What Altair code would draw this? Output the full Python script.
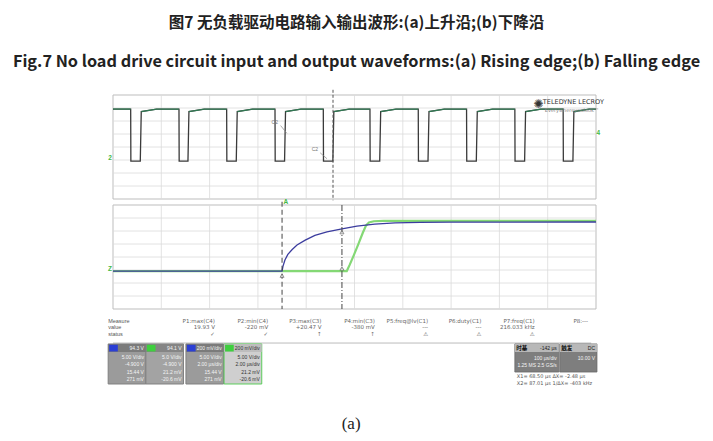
import altair as alt
import pandas as pd

# ------------------------------------------------------------------ text
TITLE_ZH = "图7 无负载驱动电路输入输出波形:(a)上升沿;(b)下降沿"
TITLE_EN = "Fig.7 No load drive circuit input and output waveforms:(a) Rising edge;(b) Falling edge"
CAPTION = "(a)"

# ------------------------------------------------------------------ top trace (drive input), time in divisions, level in divisions from centre
top_fall = [0.366, 1.366, 2.353, 3.354, 4.354, 5.32, 6.32, 7.32, 8.32, 9.32]
top_rise = [0.573, 1.56, 2.56, 3.56, 4.56, 5.53, 6.53, 7.53, 8.53, 9.53]
top_high = 2.92
top_after_rise = 2.72
top_low = -1.08
top_settle = 0.33
trigger_t = 4.555

# ------------------------------------------------------------------ zoomed traces (time in divisions, volts)
blue_t = [0.0, 3.50, 3.52, 3.56, 3.62, 3.71, 3.81, 3.98, 4.18, 4.43, 4.74, 5.05, 5.42, 5.84, 6.36, 6.98, 10.0]
blue_v = [0.0, 0.0, 2.0, 4.5, 6.8, 8.8, 10.6, 12.6, 14.5, 16.0, 17.2, 18.3, 19.1, 19.6, 19.85, 19.95, 20.0]
green_t = [0.0, 4.84, 4.90, 4.98, 5.08, 5.17, 5.24, 5.30, 5.40, 5.60, 10.0]
green_v = [0.0, 0.0, 2.5, 6.2, 11.0, 15.5, 18.6, 19.8, 20.3, 20.45, 20.47]
cursor_t = [3.50, 4.74]
volts_per_div = 5.3
zero_level_div = -1.08

# ------------------------------------------------------------------ measurement table
row_labels = ["Measure", "value", "status"]
meas_names = ["P1:max(C4)", "P2:min(C4)", "P3:max(C3)", "P4:min(C3)",
              "P5:freq@lv(C1)", "P6:duty(C1)", "P7:freq(C1)", "P8:---"]
meas_values = ["19.93 V", "-220 mV", "+20.47 V", "-380 mV", "---", "---", "216.033 kHz", ""]
meas_status = ["✓", "✓", "↑", "↑", "⚠", "⚠", "⚠", ""]

# ------------------------------------------------------------------ channel descriptor boxes
ch_names = ["C4", "C3", "Z1", "Z2"]
ch_colors = ["#2b3fd4", "#3fcf3f", "#2b3fd4", "#3fcf3f"]
ch_header = ["94.3 V", "94.1 V", "200 mV/div", "200 mV/div"]
ch_line1 = ["5.00 V/div", "5.0 V/div", "5.00 V/div", "5.00 V/div"]
ch_line2 = ["-4.900 V", "-4.900 V", "2.00 µs/div", "2.00 µs/div"]
ch_line3 = ["15.44 V", "21.2 mV", "15.44 V", "21.2 mV"]
ch_line4 = ["271 mV", "-20.6 mV", "271 mV", "-20.6 mV"]

tb_header_l = ["时基", "触发"]
tb_header_r = ["-142 µs", "DC"]
tb_line1 = ["100 µs/div", "10.00 V"]
tb_line2 = ["1.25 MS  2.5 GS/s", ""]
cursor_lines = ["X1=  68.50 µs    ΔX=  -2.48 µs", "X2=  87.01 µs  1/ΔX= -403 kHz"]

# ------------------------------------------------------------------ layout (division units of the scope screen)
PX_X, PX_Y = 48.3, 13.0
W, H = 697, 346
LEFT_PX = 105
X_DOMAIN = [-LEFT_PX / PX_X, (W - LEFT_PX) / PX_X]
Y_DOMAIN = [0, H / PX_Y]
TOP0 = 0.0
BOT0 = 110 / PX_Y

XS = alt.Scale(domain=X_DOMAIN, nice=False, zero=False)
YS = alt.Scale(domain=Y_DOMAIN, nice=False, zero=False, reverse=True)


def X(f="x"):
    return alt.X(f"{f}:Q", scale=XS, axis=None)


def Y(f="y"):
    return alt.Y(f"{f}:Q", scale=YS, axis=None)


def y_bot(v):
    return BOT0 + 4 - (zero_level_div + v / volts_per_div)


layers = []

# panels
panels = pd.DataFrame({"x": [0, 0], "x2": [10, 10], "y": [TOP0, BOT0], "y2": [TOP0 + 8, BOT0 + 8]})
layers.append(alt.Chart(panels).mark_rect(fill="white", stroke="#bdbdbd", strokeWidth=1)
              .encode(x=X(), x2="x2:Q", y=Y(), y2="y2:Q"))

gv = pd.DataFrame([{"x": k, "y": p, "y2": p + 8} for p in (TOP0, BOT0) for k in range(1, 10)])
gh = pd.DataFrame([{"y": p + k, "x": 0, "x2": 10} for p in (TOP0, BOT0) for k in range(1, 8)])
layers.append(alt.Chart(gv).mark_rule(color="#dadada", strokeWidth=0.8)
              .encode(x=X(), y=Y(), y2="y2:Q"))
layers.append(alt.Chart(gh).mark_rule(color="#dadada", strokeWidth=0.8)
              .encode(y=Y(), x=X(), x2="x2:Q"))

# top trace
pts = [(0.0, top_high)]
for f, r in zip(top_fall, top_rise):
    pts += [(f, top_high), (f + 0.004, top_low), (r - 0.008, top_low),
            (r + 0.012, top_after_rise), (r + top_settle, top_high)]
pts.append((10.0, top_high))
top_df = pd.DataFrame([{"i": i, "x": t, "y": TOP0 + 4 - v} for i, (t, v) in enumerate(pts)])
layers.append(alt.Chart(top_df).mark_line(color="#3a3a3a", strokeWidth=1.3)
              .encode(x=X(), y=Y(), order="i:Q"))

hi = [{"s": 0, "i": 0, "x": 0.0, "y": TOP0 + 4 - top_high},
      {"s": 0, "i": 1, "x": top_fall[0], "y": TOP0 + 4 - top_high}]
for k, r in enumerate(top_rise):
    nxt = top_fall[k + 1] if k + 1 < len(top_fall) else 10.0
    hi += [{"s": k + 1, "i": 0, "x": r + 0.012, "y": TOP0 + 4 - top_after_rise},
           {"s": k + 1, "i": 1, "x": r + top_settle, "y": TOP0 + 4 - top_high},
           {"s": k + 1, "i": 2, "x": nxt, "y": TOP0 + 4 - top_high}]
layers.append(alt.Chart(pd.DataFrame(hi)).mark_line(color="#2f8055", strokeWidth=1.3, opacity=0.9)
              .encode(x=X(), y=Y(), detail="s:N", order="i:Q"))

# trigger line
trig = pd.DataFrame({"x": [trigger_t], "y": [TOP0 - 0.4], "y2": [TOP0 + 8.1]})
layers.append(alt.Chart(trig).mark_rule(color="#555", strokeWidth=1, strokeDash=[3, 2])
              .encode(x=X(), y=Y(), y2="y2:Q"))

# tags on top trace
tags = pd.DataFrame({"x": [3.35, 4.18], "y": [2.08, 4.15], "t": ["C2", "C2"]})
lead = pd.DataFrame({"x": [3.47, 4.29], "y": [2.35, 4.45], "x2": [3.60, 4.43], "y2": [2.95, 4.9]})
layers.append(alt.Chart(lead).mark_rule(color="#888", strokeWidth=0.7)
              .encode(x=X(), y=Y(), x2="x2:Q", y2="y2:Q"))
layers.append(alt.Chart(tags).mark_text(fontSize=5, color="#777", font="Liberation Sans")
              .encode(x=X(), y=Y(), text="t:N"))

# logo
logo = pd.DataFrame({"x": [8.70, 8.90, 8.94], "y": [0.72, 0.55, 1.15],
                     "t": ["✺", "TELEDYNE LECROY", "Everywhereyoulook™"],
                     "s": [12, 6.5, 5], "c": ["#333", "#333", "#888"]})
layers.append(alt.Chart(logo).mark_text(align="left", baseline="middle", font="DejaVu Sans")
              .encode(x=X(), y=Y(), text="t:N", size=alt.Size("s:Q", scale=None),
                      color=alt.Color("c:N", scale=None)))

# channel markers
mk = pd.DataFrame({"x": [10.05, -0.06, -0.06, 3.58], "y": [2.92, 4.87, 13.4, 8.23],
                   "t": ["4", "2", "Z", "A"]})
layers.append(alt.Chart(mk).mark_text(fontSize=6.5, color="#44b844", font="Liberation Sans", fontWeight="bold")
              .encode(x=X(), y=Y(), text="t:N"))

# zoom traces
gdf = pd.DataFrame({"x": green_t, "y": [y_bot(v) for v in green_v]})
bdf = pd.DataFrame({"x": blue_t, "y": [y_bot(v) for v in blue_v]})
layers.append(alt.Chart(gdf).mark_line(color="#84d875", strokeWidth=2.2).encode(x=X(), y=Y()))
layers.append(alt.Chart(bdf).mark_line(color="#3b3c9e", strokeWidth=1.3).encode(x=X(), y=Y()))

# cursors
cur = pd.DataFrame({"x": cursor_t, "y": [BOT0 - 0.25, BOT0], "y2": [BOT0 + 8, BOT0 + 8], "k": ["c1", "c2"]})
layers.append(alt.Chart(cur[cur.k == "c1"]).mark_rule(color="#444", strokeWidth=1, strokeDash=[5, 3])
              .encode(x=X(), y=Y(), y2="y2:Q"))
layers.append(alt.Chart(cur[cur.k == "c2"]).mark_rule(color="#444", strokeWidth=1, strokeDash=[6, 2, 1, 2])
              .encode(x=X(), y=Y(), y2="y2:Q"))
cm = pd.DataFrame({"x": [cursor_t[0], cursor_t[1], cursor_t[1]],
                   "y": [y_bot(0) + 0.35, y_bot(17.2) + 0.25, y_bot(0) - 0.2]})
layers.append(alt.Chart(cm).mark_point(shape="triangle-up", size=16, filled=True, fill="white",
                                       stroke="#444", strokeWidth=0.8)
              .encode(x=X(), y=Y()))

# measurement table
COL0, COL_STEP = 2.11, 1.1035
ROW_Y = [17.38, 17.88, 18.38]
tab = []
for i in range(len(meas_names)):
    for r, arr in enumerate([meas_names, meas_values, meas_status]):
        tab.append({"x": COL0 + i * COL_STEP, "y": ROW_Y[r], "t": arr[i]})
tab_df = pd.DataFrame(tab)
layers.append(alt.Chart(tab_df).mark_text(align="right", baseline="middle", fontSize=5.5,
                                          color="#666", font="DejaVu Sans")
              .encode(x=X(), y=Y(), text="t:N"))
rl = pd.DataFrame({"x": [-0.10] * 3, "y": ROW_Y, "t": row_labels})
layers.append(alt.Chart(rl).mark_text(align="left", baseline="middle", fontSize=5.5,
                                      color="#555", font="Liberation Sans")
              .encode(x=X(), y=Y(), text="t:N"))
sep = pd.DataFrame({"x": [0.0], "x2": [9.9], "y": [19.08]})
layers.append(alt.Chart(sep).mark_rule(color="#aaa", strokeWidth=0.8)
              .encode(x=X(), x2="x2:Q", y=Y()))

# channel boxes
BX = [-0.10, 0.68, 1.51, 2.30]
BW = 0.78
BY0, BY1, HDR = 19.15, 22.23, 0.62
boxes = pd.DataFrame({"x": BX, "x2": [b + BW for b in BX], "y": [BY0] * 4, "y2": [BY1] * 4,
                      "f": ["#9b9b9b", "#a3a3a3", "#9b9b9b", "#cfcfcf"],
                      "s": ["#808080", "#808080", "#808080", "#5ccc5c"]})
layers.append(alt.Chart(boxes).mark_rect(strokeWidth=1)
              .encode(x=X(), x2="x2:Q", y=Y(), y2="y2:Q",
                      fill=alt.Fill("f:N", scale=None), stroke=alt.Stroke("s:N", scale=None)))
hdr = pd.DataFrame({"x": BX, "x2": [b + BW for b in BX], "y": [BY0] * 4, "y2": [BY0 + HDR] * 4,
                    "f": ["#7b7b7b", "#858585", "#7b7b7b", "#bdbdbd"]})
layers.append(alt.Chart(hdr).mark_rect()
              .encode(x=X(), x2="x2:Q", y=Y(), y2="y2:Q", fill=alt.Fill("f:N", scale=None)))
sq = pd.DataFrame({"x": [b + 0.02 for b in BX], "x2": [b + 0.2 for b in BX],
                   "y": [BY0 + 0.06] * 4, "y2": [BY0 + HDR - 0.04] * 4, "f": ch_colors})
layers.append(alt.Chart(sq).mark_rect()
              .encode(x=X(), x2="x2:Q", y=Y(), y2="y2:Q", fill=alt.Fill("f:N", scale=None)))
bt = []
for i in range(4):
    dark = i == 3
    for j, arr in enumerate([ch_header, ch_line1, ch_line2, ch_line3, ch_line4]):
        bt.append({"x": BX[i] + BW - 0.04, "y": BY0 + 0.32 + j * 0.56 + (0.12 if j else 0),
                   "t": arr[i], "c": "#333" if dark else "#f4f4f4"})
layers.append(alt.Chart(pd.DataFrame(bt)).mark_text(align="right", baseline="middle", fontSize=5,
                                                    font="Liberation Sans")
              .encode(x=X(), y=Y(), text="t:N", color=alt.Color("c:N", scale=None)))

# timebase / trigger boxes
TX = [8.32, 9.25]
TW = [0.91, 0.77]
TY0, TY1 = 19.15, 21.31
tbox = pd.DataFrame({"x": TX, "x2": [a + b for a, b in zip(TX, TW)], "y": [TY0] * 2, "y2": [TY1] * 2})
layers.append(alt.Chart(tbox).mark_rect(fill="#7e7e7e", stroke="#6a6a6a", strokeWidth=0.8)
              .encode(x=X(), x2="x2:Q", y=Y(), y2="y2:Q"))
thdr = pd.DataFrame({"x": TX, "x2": [a + b for a, b in zip(TX, TW)], "y": [TY0] * 2, "y2": [TY0 + 0.62] * 2})
layers.append(alt.Chart(thdr).mark_rect(fill="#b8b8b8")
              .encode(x=X(), x2="x2:Q", y=Y(), y2="y2:Q"))
tt = []
for i in range(2):
    tt.append({"x": TX[i] + 0.03, "y": TY0 + 0.31, "t": tb_header_l[i], "a": "l", "c": "#111"})
    tt.append({"x": TX[i] + TW[i] - 0.04, "y": TY0 + 0.31, "t": tb_header_r[i], "a": "r", "c": "#222"})
    tt.append({"x": TX[i] + TW[i] - 0.04, "y": TY0 + 1.05, "t": tb_line1[i], "a": "r", "c": "#f4f4f4"})
    tt.append({"x": TX[i] + TW[i] - 0.04, "y": TY0 + 1.6, "t": tb_line2[i], "a": "r", "c": "#f4f4f4"})
tt_df = pd.DataFrame(tt)
layers.append(alt.Chart(tt_df[tt_df.a == "l"]).mark_text(align="left", baseline="middle", fontSize=5.5,
                                                        font="Noto Sans CJK SC", fontWeight="bold")
              .encode(x=X(), y=Y(), text="t:N", color=alt.Color("c:N", scale=None)))
layers.append(alt.Chart(tt_df[tt_df.a == "r"]).mark_text(align="right", baseline="middle", fontSize=5,
                                                        font="Liberation Sans")
              .encode(x=X(), y=Y(), text="t:N", color=alt.Color("c:N", scale=None)))
cl = pd.DataFrame({"x": [8.36, 8.36], "y": [21.62, 22.17], "t": cursor_lines})
layers.append(alt.Chart(cl).mark_text(align="left", baseline="middle", fontSize=5,
                                      color="#555", font="DejaVu Sans")
              .encode(x=X(), y=Y(), text="t:N"))

# caption
cap = pd.DataFrame({"x": [4.93], "y": [25.3], "t": [CAPTION]})
layers.append(alt.Chart(cap).mark_text(fontSize=17, color="#222", font="Liberation Serif")
              .encode(x=X(), y=Y(), text="t:N"))

chart = alt.layer(*layers).properties(
    width=W, height=H,
    autosize=alt.AutoSizeParams(type="none"),
    padding={"left": 0, "right": 0, "top": 87, "bottom": 0},
    title=alt.TitleParams(
        text=TITLE_ZH, subtitle=TITLE_EN, anchor="middle", frame="group",
        font="Noto Sans CJK SC", fontSize=15.5, fontWeight="bold", color="#222",
        subtitleFont="Noto Sans CJK SC", subtitleFontSize=16.3, subtitleFontWeight="bold",
        subtitleColor="#222", subtitlePadding=23, offset=19,
    ),
).configure_view(stroke=None)

chart.save("out.html", embed_options={"renderer": "svg", "actions": False})
